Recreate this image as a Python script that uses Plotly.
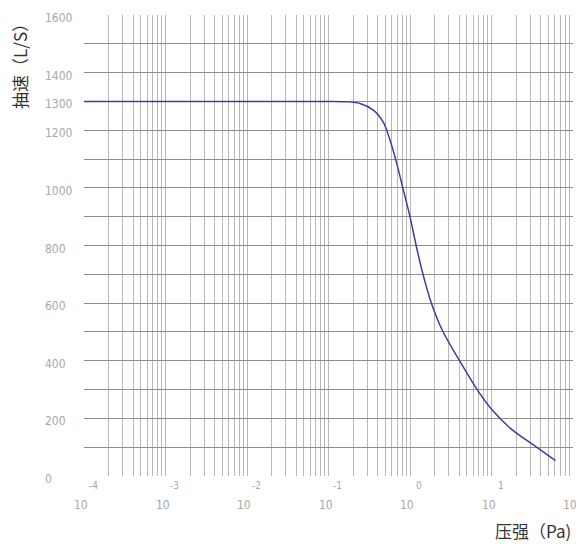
import numpy as np
import plotly.graph_objects as go

# Data
pressure_pa = [1e-4, 0.1, 0.16, 0.243, 0.355, 0.47, 0.569, 0.686, 0.828, 1.0, 1.15, 1.39,
               1.8, 2.5, 4.0, 6.7, 10.2, 18, 35, 61]
speed_ls = [1300, 1300, 1299, 1293, 1270, 1228, 1165, 1086, 993, 900, 819, 718,
            606, 505, 403, 299, 229, 160, 102, 53]

x_exponents = [-4, -3, -2, -1, 0, 1, 2]
y_tick_values = [0, 200, 400, 600, 800, 1000, 1200, 1300, 1400, 1600]
y_grid_values = list(range(0, 1601, 100))
x_grid_values = [m * 10.0 ** e for e in range(-4, 2) for m in range(1, 10)] + [100.0]

x_title = "压强（Pa)"
y_title = "抽速（L/S）"

tick_font = dict(family="Liberation Sans Narrow, DejaVu Sans Condensed, Roboto, sans-serif",
                 size=12, color="#a8a8a8")
title_font = dict(family="Noto Sans CJK SC, sans-serif", size=17, color="#333333")

fig = go.Figure()
fig.add_trace(go.Scatter(
    x=pressure_pa, y=speed_ls, mode="lines",
    line=dict(color="#3b3f9c", width=1.5, shape="spline", smoothing=0.9),
    showlegend=False, hoverinfo="skip",
))

annotations = []
for e in x_exponents:
    annotations.append(dict(x=e, y=-0.02, xref="x", yref="paper", text=str(e),
                            showarrow=False, xshift=9, font=dict(tick_font, size=10),
                            xanchor="center", yanchor="middle"))
    annotations.append(dict(x=e, y=-0.063, xref="x", yref="paper", text="10",
                            showarrow=False, xshift=-3, font=tick_font,
                            xanchor="center", yanchor="middle"))
for v in y_tick_values:
    annotations.append(dict(x=-0.084, y=v, xref="paper", yref="y", text=str(v),
                            showarrow=False, yshift=-3, font=tick_font,
                            xanchor="left", yanchor="middle"))
annotations.append(dict(x=1.0, y=-0.118, xref="paper", yref="paper", text=x_title,
                        showarrow=False, font=title_font, xanchor="right", yanchor="middle"))
annotations.append(dict(x=-0.133, y=0.898, xref="paper", yref="paper", text=y_title,
                        showarrow=False, font=title_font, textangle=-90,
                        xanchor="center", yanchor="middle"))

fig.update_layout(
    width=584, height=544,
    margin=dict(l=76, r=19, t=7, b=76),
    paper_bgcolor="white", plot_bgcolor="white",
    xaxis=dict(type="log", range=[-4, 2], tickvals=x_grid_values, showticklabels=False,
               showgrid=True, gridcolor="#b8b8b8", gridwidth=1, zeroline=False,
               showline=False, ticks=""),
    yaxis=dict(range=[0, 1600], tickvals=y_grid_values, showticklabels=False,
               showgrid=True, gridcolor="#8e8e8e", gridwidth=1, zeroline=False,
               showline=False, ticks=""),
    annotations=annotations,
)

fig.write_html("out.html")
